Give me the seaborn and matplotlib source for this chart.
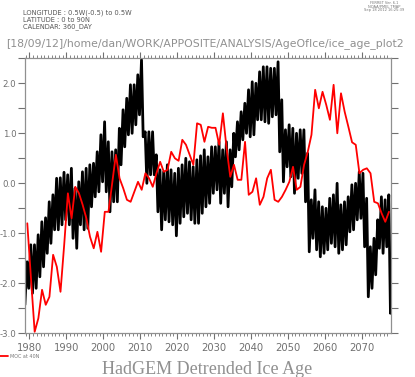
import matplotlib
matplotlib.use("Agg")
import matplotlib.pyplot as plt
import numpy as np
import seaborn as sns
from matplotlib.ticker import MultipleLocator, FuncFormatter

# years of the annual series
years = np.arange(1979, 2078)

# MOC at 40N (annual values)
moc = [-0.8, -1.9, -2.97, -2.7, -2.13, -2.43, -2.27, -1.43, -1.67, -2.17,
       -1.23, -0.2, -0.7, -0.07, -0.2, -0.43, -0.7, -1.07, -1.3, -0.97,
       -1.37, -0.57, -0.57, 0.0, 0.57, 0.1, -0.1, -0.33, -0.37, -0.17,
       0.03, -0.13, 0.2, 0.1, -0.07, 0.2, 0.43, 0.23, 0.27, 0.63,
       0.5, 0.45, 0.87, 0.77, 0.57, 0.37, 1.2, 1.17, 0.83, 1.13,
       1.11, 1.11, 0.77, 1.4, 0.7, 0.13, 0.37, 0.07, 0.07, 0.83,
       -0.23, -0.17, 0.1, -0.43, -0.27, 0.1, 0.27, -0.33, -0.37, -0.27,
       -0.13, 0.03, 0.33, -0.13, -0.07, 0.37, 0.63, 0.97, 1.87, 1.5,
       1.83, 1.57, 1.27, 1.97, 1.0, 1.8, 1.43, 1.13, 0.82, 0.77,
       0.2, 0.27, 0.3, 0.2, -0.37, -0.4, -0.6, -0.77, -0.57]

# detrended ice age: seasonal highs and lows for each year
ice_hi = [-1.57, -1.23, -1.23, -1.03, -0.77, -0.69, -0.37, -0.23, 0.1, 0.11,
          0.22, 0.17, 0.3, -0.1, 0.03, 0.23, 0.3, 0.37, 0.4, 0.63,
          0.97, 1.23, 0.83, 0.63, 0.67, 1.1, 1.47, 1.7, 1.97, 1.97,
          2.17, 2.47, 1.03, 1.03, 1.03, 0.57, 0.27, 0.23, 0.37, 0.27,
          0.2, 0.3, 0.37, 0.5, 0.43, 0.33, 0.47, 0.55, 0.67, 0.53,
          0.73, 0.73, 0.83, 0.67, 0.83, 0.67, 1.0, 1.23, 1.43, 1.6,
          1.87, 2.03, 2.0, 2.23, 2.33, 2.33, 2.3, 2.3, 2.43, 1.67,
          1.07, 1.17, 1.1, 1.0, 1.07, 1.07, 0.6, -0.33, -0.13, -0.37,
          -0.47, -0.5, -0.3, -0.23, 0.0, -0.43, -0.37, -0.27, -0.03, 0.0,
          0.23, 0.2, -0.3, -1.27, -1.1, -0.73, -0.27, -0.33, -0.23]
ice_lo = [-2.1, -2.2, -2.1, -1.87, -1.67, -1.4, -1.2, -0.93, -0.93, -0.83,
          -0.73, -0.83, -1.1, -1.3, -0.83, -0.93, -0.9, -0.47, -0.27, -0.17,
          0.03, -0.17, -0.57, -0.37, -0.37, 0.37, 0.73, 0.97, 1.0, 1.17,
          1.37, 0.93, 0.0, 0.17, 0.17, -0.57, -0.93, -0.73, -0.77, -0.83,
          -1.05, -0.8, -0.67, -0.6, -0.73, -0.8, -0.8, -0.6, -0.47, -0.4,
          -0.2, -0.13, -0.4, -0.2, -0.47, -0.07, 0.53, 0.67, 0.87, 1.0,
          0.93, 0.97, 1.27, 1.27, 1.23, 1.2, 1.33, 1.37, 0.63, 0.03,
          0.33, 0.13, -0.2, 0.1, 0.2, -0.37, -1.37, -1.1, -1.33, -1.47,
          -1.4, -1.33, -1.2, -1.27, -1.4, -1.33, -1.23, -0.97, -0.93, -0.73,
          -0.7, -1.27, -2.27, -2.1, -1.83, -1.3, -1.4, -1.27, -2.6]
ice_first, ice_last = -2.43, -1.93

# build the half-yearly ice age series
ice_t = np.concatenate([[1978.75], np.column_stack([years + 0.35, years + 0.8]).ravel(), [2077.95]])
ice_v = np.concatenate([[ice_first], np.column_stack([ice_hi, ice_lo]).ravel(), [ice_last]])

sns.set_style("white")
grey = "#707070"

fig = plt.figure(figsize=(4.15, 3.77), dpi=100)
ax = fig.add_axes([24.7 / 415, 43.7 / 377, 366.3 / 415, 275 / 377])

sns.lineplot(x=ice_t, y=ice_v, color="black", lw=2.0, ax=ax)
sns.lineplot(x=years + 0.4, y=moc, color="red", lw=1.3, ax=ax)

ax.set_xlim(1978.7, 2077.95)
ax.set_ylim(-3.0, 2.5)
ax.xaxis.set_major_locator(MultipleLocator(10))
ax.xaxis.set_minor_locator(MultipleLocator(1))
ax.yaxis.set_major_locator(MultipleLocator(1))
ax.yaxis.set_minor_locator(MultipleLocator(0.5))
ax.yaxis.set_major_formatter(FuncFormatter(lambda v, p: f"{v:.1f}".replace("\u2212", "-")))
ax.tick_params(axis="x", which="both", direction="out", top=True, bottom=True,
               colors=grey, labelsize=7.2, pad=3)
ax.tick_params(axis="x", which="major", length=4, width=0.8)
ax.tick_params(axis="x", which="minor", length=2, width=0.6)
ax.tick_params(axis="y", which="both", direction="out", left=True, right=True,
               length=5, width=0.8, colors=grey, labelsize=6.2, pad=1)
for s in ax.spines.values():
    s.set_color("#909090")
    s.set_linewidth(0.9)
ax.set_xlabel("")
ax.set_ylabel("")

# header texts
fig.text(23 / 415, 1 - 13 / 377, "LONGITUDE : 0.5W(-0.5) to 0.5W", fontsize=4.8, color="#555555", va="center")
fig.text(23 / 415, 1 - 20 / 377, "LATITUDE : 0 to 90N", fontsize=4.8, color="#555555", va="center")
fig.text(23 / 415, 1 - 27 / 377, "CALENDAR: 360_DAY", fontsize=4.8, color="#555555", va="center")
fig.text(384 / 415, 1 - 2.5 / 377, "FERRET Ver. 6.1", fontsize=2.6, color="#777777", ha="center", va="center")
fig.text(384 / 415, 1 - 6.5 / 377, "NOAA/PMEL TMAP", fontsize=2.6, color="#777777", ha="center", va="center")
fig.text(384 / 415, 1 - 10.5 / 377, "Sep 18 2012 16:25:39", fontsize=2.6, color="#777777", ha="center", va="center")
fig.text(205 / 415, 1 - 44 / 377,
         "[18/09/12]/home/dan/WORK/APPOSITE/ANALYSIS/AgeOfIce/ice_age_plot2",
         fontsize=7.8, color="#909090", ha="center", va="center")

# legend line and label
fig.add_artist(plt.Line2D([0, 8 / 415], [1 - 356 / 377] * 2, color="red", lw=1.3))
fig.text(10 / 415, 1 - 356 / 377, "MOC at 40N", fontsize=3.5, color="#777777", va="center")

# title
fig.text(207 / 415, 1 - 369 / 377, "HadGEM Detrended Ice Age", fontsize=13,
         family="Liberation Serif", color="#909090", ha="center", va="center")

fig.savefig("out.png", dpi=100)
